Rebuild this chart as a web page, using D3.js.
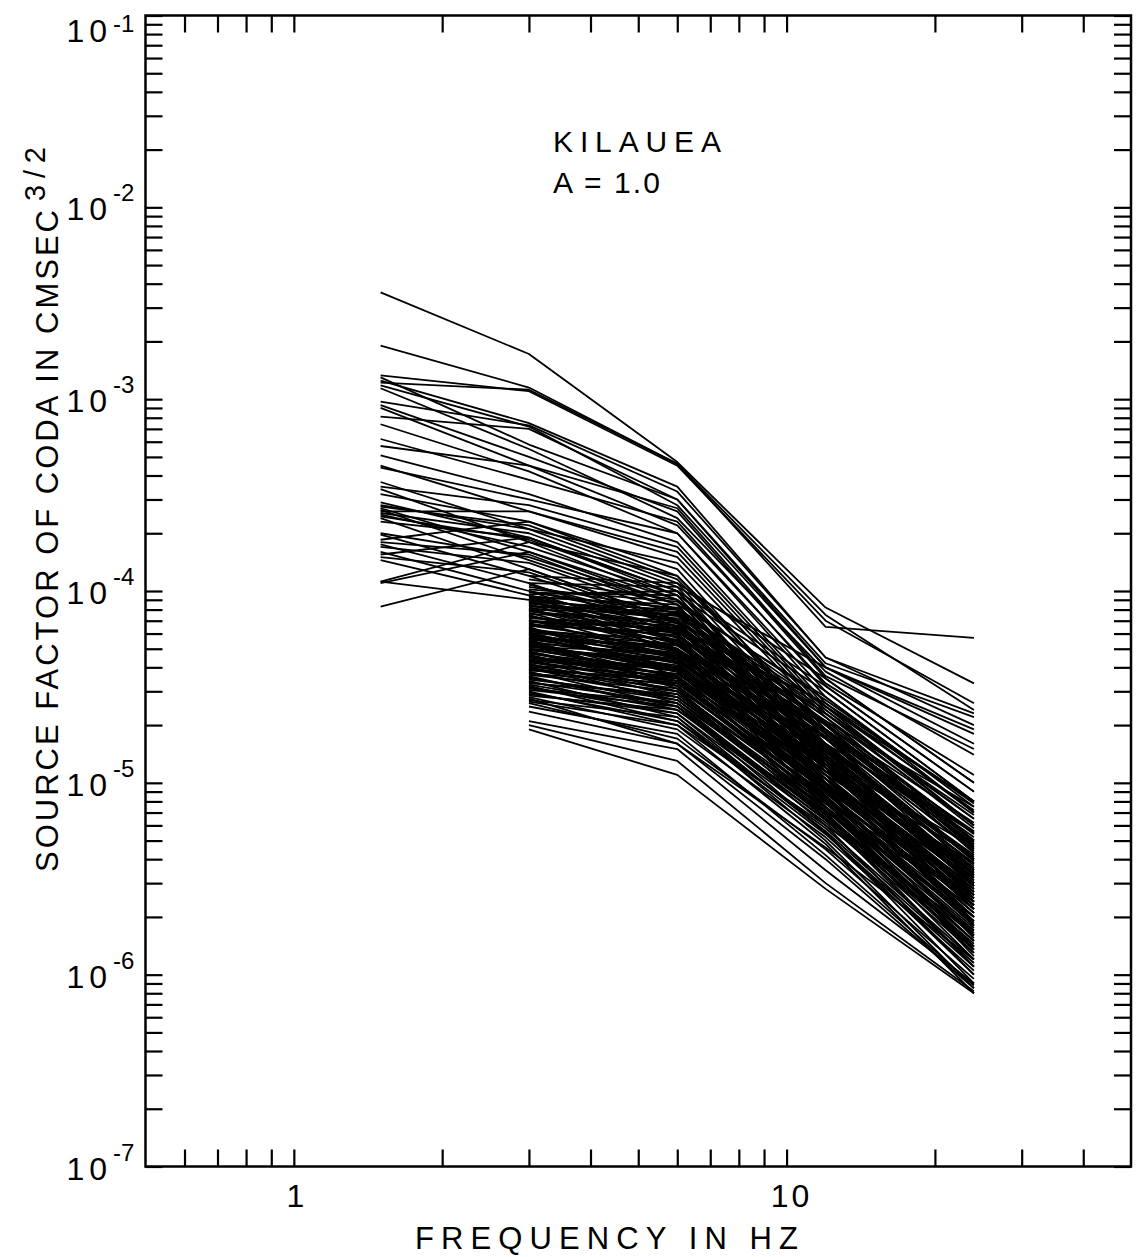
<!DOCTYPE html>
<html>
<head>
<meta charset="utf-8">
<script src="https://cdn.jsdelivr.net/npm/d3@7"></script>
<style>
  html, body { margin: 0; padding: 0; background: #fff; }
  svg { display: block; }
  text { font-family: "Liberation Sans", Arial, sans-serif; fill: #000; }
</style>
</head>
<body>
<svg id="chart" width="1139" height="1257"></svg>
<script>
// ---------------- DATA ----------------
const freqs = [1.5, 3, 6, 12, 24];           // Hz
const freqsFrom3 = [3, 6, 12, 24];

// Lines beginning at 1.5 Hz: values at 1.5, 3, 6, 12, 24 Hz
const linesFrom15 = [
  [3.6e-3, 1.72e-3, 4.7e-4, 8.2e-5, 3.3e-5],
  [1.9e-3, 1.15e-3, 4.6e-4, 6.5e-5, 5.7e-5],
  [1.33e-3, 1.1e-3, 4.5e-4, 7.0e-5, 2.6e-5],
  [1.25e-3, 7.5e-4, 3.5e-4, 4.5e-5, 2.3e-5],
  [1.22e-3, 1.12e-3, 4.6e-4, 7.5e-5, 2.4e-5],
  [1.18e-3, 7.2e-4, 2.8e-4, 4.0e-5, 1.6e-5],
  [1.14e-3, 5.5e-4, 2.4e-4, 3.8e-5, 1.4e-5],
  [9.7e-4, 7.3e-4, 3.3e-4, 4.5e-5, 2.0e-5],
  [9.3e-4, 5.0e-4, 2.6e-4, 3.5e-5, 1.0e-5],
  [9.0e-4, 4.5e-4, 2.2e-4, 3.3e-5, 1.1e-5],
  [8.1e-4, 7.0e-4, 3.0e-4, 4.2e-5, 2.2e-5],
  [7.4e-4, 4.2e-4, 2.0e-4, 3.0e-5, 8.0e-6],
  [6.2e-4, 3.8e-4, 2.3e-4, 3.2e-5, 9.0e-6],
  [5.7e-4, 4.5e-4, 2.7e-4, 3.6e-5, 1.5e-5],
  [5.1e-4, 3.2e-4, 1.8e-4, 2.6e-5, 7.0e-6],
  [4.5e-4, 2.6e-4, 1.6e-4, 2.4e-5, 6.0e-6],
  [4.4e-4, 3.0e-4, 2.0e-4, 2.8e-5, 7.5e-6],
  [3.7e-4, 2.1e-4, 1.4e-4, 2.2e-5, 5.0e-6],
  [3.5e-4, 2.8e-4, 1.7e-4, 2.5e-5, 8.0e-6],
  [3.4e-4, 1.8e-4, 1.2e-4, 2.0e-5, 4.5e-6],
  [3.2e-4, 2.3e-4, 1.3e-4, 1.8e-5, 5.5e-6],
  [2.9e-4, 1.9e-4, 1.0e-4, 1.6e-5, 4.0e-6],
  [2.8e-4, 2.1e-4, 1.1e-4, 1.7e-5, 3.5e-6],
  [2.75e-4, 2.2e-4, 1.15e-4, 1.9e-5, 4.8e-6],
  [2.7e-4, 1.6e-4, 9.0e-5, 1.4e-5, 3.0e-6],
  [2.65e-4, 1.45e-4, 8.0e-5, 1.2e-5, 2.5e-6],
  [2.6e-4, 2.6e-4, 1.5e-4, 2.3e-5, 6.5e-6],
  [2.55e-4, 2.0e-4, 1.05e-4, 1.5e-5, 4.0e-6],
  [2.5e-4, 1.7e-4, 9.5e-5, 1.3e-5, 3.2e-6],
  [2.45e-4, 1.85e-4, 1.0e-4, 1.55e-5, 3.6e-6],
  [2.4e-4, 1.3e-4, 7.0e-5, 1.1e-5, 2.2e-6],
  [2.3e-4, 1.9e-4, 1.0e-4, 1.45e-5, 3.8e-6],
  [2.0e-4, 1.5e-4, 8.5e-5, 1.25e-5, 3.0e-6],
  [1.97e-4, 1.2e-4, 6.5e-5, 1.0e-5, 2.0e-6],
  [1.85e-4, 2.3e-4, 1.2e-4, 1.8e-5, 5.0e-6],
  [1.8e-4, 1.55e-4, 8.0e-5, 1.3e-5, 2.9e-6],
  [1.75e-4, 1.1e-4, 6.0e-5, 9.0e-6, 1.8e-6],
  [1.7e-4, 1.4e-4, 7.5e-5, 1.15e-5, 2.8e-6],
  [1.6e-4, 1.0e-4, 5.5e-5, 8.5e-6, 1.6e-6],
  [1.55e-4, 1.9e-4, 9.5e-5, 1.4e-5, 3.3e-6],
  [1.5e-4, 1.25e-4, 6.8e-5, 1.05e-5, 2.3e-6],
  [1.45e-4, 9.5e-5, 5.0e-5, 8.0e-6, 1.5e-6],
  [1.3e-3, 5.8e-4, 3.0e-4, 4.0e-5, 1.9e-5],
  [1.12e-4, 1.8e-4, 9.0e-5, 1.35e-5, 3.4e-6],
  [1.12e-4, 9.0e-5, 4.8e-5, 7.5e-6, 1.4e-6],
  [1.1e-4, 1.6e-4, 8.5e-5, 1.2e-5, 2.7e-6],
  [8.3e-5, 1.3e-4, 7.0e-5, 1.0e-5, 2.1e-6]
];

// Lines beginning at 3 Hz: values at 3, 6, 12, 24 Hz
const linesFrom3 = [
  [1.2e-4, 1.1e-4, 3.5e-5, 1.0e-5],
  [1.15e-4, 9.0e-5, 2.5e-5, 6.0e-6],
  [1.1e-4, 1.05e-4, 4.0e-5, 1.8e-5],
  [1.08e-4, 6.8e-5, 1.6e-5, 3.3e-6],
  [1.05e-4, 8.0e-5, 2.2e-5, 5.0e-6],
  [1.02e-4, 8.8e-5, 2.7e-5, 7.8e-6],
  [1.0e-4, 7.0e-5, 1.8e-5, 4.0e-6],
  [9.9e-5, 7.7e-5, 2.05e-5, 4.9e-6],
  [9.8e-5, 9.5e-5, 3.0e-5, 8.0e-6],
  [9.6e-5, 1.0e-4, 3.2e-5, 9.0e-6],
  [9.5e-5, 6.5e-5, 1.5e-5, 3.0e-6],
  [9.4e-5, 8.2e-5, 2.3e-5, 5.8e-6],
  [9.3e-5, 8.5e-5, 2.8e-5, 7.0e-6],
  [9.2e-5, 7.0e-5, 1.9e-5, 4.6e-6],
  [9.1e-5, 6.2e-5, 1.6e-5, 3.7e-6],
  [9.0e-5, 7.5e-5, 2.0e-5, 5.5e-6],
  [8.9e-5, 5.7e-5, 1.35e-5, 2.9e-6],
  [8.8e-5, 6.0e-5, 1.3e-5, 2.5e-6],
  [8.75e-5, 8.0e-5, 2.5e-5, 7.2e-6],
  [8.7e-5, 6.6e-5, 1.85e-5, 5.2e-6],
  [8.6e-5, 7.4e-5, 2.1e-5, 5.4e-6],
  [8.5e-5, 5.5e-5, 1.2e-5, 2.2e-6],
  [8.4e-5, 7.2e-5, 2.0e-5, 4.3e-6],
  [8.3e-5, 7.8e-5, 2.4e-5, 6.5e-6],
  [8.2e-5, 6.4e-5, 1.7e-5, 3.9e-6],
  [8.1e-5, 5.3e-5, 1.25e-5, 2.3e-6],
  [8.0e-5, 5.0e-5, 1.4e-5, 3.5e-6],
  [8.0e-5, 7.6e-5, 2.2e-5, 6.0e-6],
  [7.9e-5, 6.0e-5, 1.45e-5, 3.2e-6],
  [7.8e-5, 6.8e-5, 1.7e-5, 4.5e-6],
  [7.7e-5, 4.9e-5, 1.2e-5, 2.6e-6],
  [7.6e-5, 7.0e-5, 2.3e-5, 6.8e-6],
  [7.5e-5, 4.5e-5, 1.0e-5, 2.0e-6],
  [7.4e-5, 5.4e-5, 1.5e-5, 3.1e-6],
  [7.3e-5, 6.2e-5, 2.1e-5, 7.5e-6],
  [7.2e-5, 6.6e-5, 1.9e-5, 5.6e-6],
  [7.1e-5, 4.4e-5, 1.05e-5, 1.9e-6],
  [7.0e-5, 5.8e-5, 1.6e-5, 4.0e-6],
  [7.0e-5, 6.3e-5, 1.8e-5, 4.7e-6],
  [6.95e-5, 5.5e-5, 1.4e-5, 2.9e-6],
  [6.9e-5, 6.4e-5, 2.6e-5, 8.0e-6],
  [6.8e-5, 4.8e-5, 1.1e-5, 1.8e-6],
  [6.7e-5, 5.9e-5, 1.75e-5, 4.4e-6],
  [6.6e-5, 5.2e-5, 1.9e-5, 5.0e-6],
  [6.6e-5, 6.1e-5, 2.0e-5, 6.2e-6],
  [6.5e-5, 3.6e-5, 8.2e-6, 1.35e-6],
  [6.4e-5, 4.2e-5, 9.0e-6, 1.6e-6],
  [6.35e-5, 5.0e-5, 1.25e-5, 2.6e-6],
  [6.3e-5, 4.7e-5, 1.35e-5, 3.4e-6],
  [6.2e-5, 5.6e-5, 1.5e-5, 3.8e-6],
  [6.2e-5, 4.6e-5, 1.3e-5, 3.0e-6],
  [6.1e-5, 3.9e-5, 9.5e-6, 1.55e-6],
  [6.05e-5, 5.3e-5, 1.55e-5, 4.1e-6],
  [6.0e-5, 4.0e-5, 1.2e-5, 2.8e-6],
  [5.95e-5, 4.5e-5, 1.2e-5, 2.4e-6],
  [5.9e-5, 3.8e-5, 8.0e-6, 1.4e-6],
  [5.8e-5, 5.0e-5, 1.7e-5, 4.8e-6],
  [5.75e-5, 4.7e-5, 1.35e-5, 3.5e-6],
  [5.7e-5, 4.2e-5, 1.15e-5, 2.7e-6],
  [5.65e-5, 5.2e-5, 1.5e-5, 4.2e-6],
  [5.6e-5, 4.4e-5, 1.3e-5, 3.0e-6],
  [5.6e-5, 3.1e-5, 6.8e-6, 1.1e-6],
  [5.5e-5, 3.5e-5, 7.5e-6, 1.3e-6],
  [5.45e-5, 4.3e-5, 1.2e-5, 3.1e-6],
  [5.4e-5, 4.6e-5, 1.45e-5, 3.3e-6],
  [5.35e-5, 3.8e-5, 1.0e-5, 2.5e-6],
  [5.3e-5, 3.3e-5, 9.5e-6, 2.4e-6],
  [5.25e-5, 3.9e-5, 1.05e-5, 2.2e-6],
  [5.2e-5, 4.1e-5, 1.1e-5, 2.6e-6],
  [5.15e-5, 4.0e-5, 1.1e-5, 2.4e-6],
  [5.1e-5, 4.8e-5, 1.6e-5, 5.5e-6],
  [5.0e-5, 3.6e-5, 7.0e-6, 1.2e-6],
  [5.0e-5, 4.4e-5, 1.2e-5, 3.4e-6],
  [4.95e-5, 3.8e-5, 9.8e-6, 2.1e-6],
  [4.9e-5, 4.3e-5, 1.25e-5, 3.6e-6],
  [4.85e-5, 3.4e-5, 9.2e-6, 2.0e-6],
  [4.8e-5, 3.2e-5, 8.5e-6, 1.9e-6],
  [4.75e-5, 3.6e-5, 9.5e-6, 2.8e-6],
  [4.7e-5, 3.9e-5, 1.05e-5, 2.9e-6],
  [4.65e-5, 3.2e-5, 8.0e-6, 1.25e-6],
  [4.6e-5, 3.0e-5, 6.5e-6, 1.1e-6],
  [4.55e-5, 3.5e-5, 9.0e-6, 2.3e-6],
  [4.5e-5, 3.7e-5, 1.15e-5, 4.2e-6],
  [4.5e-5, 4.0e-5, 1.3e-5, 4.6e-6],
  [4.4e-5, 2.8e-5, 7.8e-6, 1.7e-6],
  [4.4e-5, 3.9e-5, 1.15e-5, 3.0e-6],
  [4.35e-5, 3.7e-5, 1.05e-5, 2.7e-6],
  [4.3e-5, 3.4e-5, 9.0e-6, 2.1e-6],
  [4.25e-5, 3.3e-5, 8.6e-6, 1.8e-6],
  [4.2e-5, 2.6e-5, 6.0e-6, 1.0e-6],
  [4.15e-5, 3.0e-5, 8.0e-6, 1.75e-6],
  [4.1e-5, 3.6e-5, 1.0e-5, 3.2e-6],
  [4.05e-5, 3.2e-5, 8.4e-6, 2.0e-6],
  [4.0e-5, 2.9e-5, 7.2e-6, 1.5e-6],
  [3.95e-5, 2.7e-5, 7.0e-6, 1.35e-6],
  [3.9e-5, 3.1e-5, 8.8e-6, 2.3e-6],
  [3.9e-5, 3.4e-5, 9.3e-6, 2.4e-6],
  [3.85e-5, 3.5e-5, 1.1e-5, 3.8e-6],
  [3.8e-5, 2.5e-5, 5.5e-6, 9.0e-7],
  [3.75e-5, 2.8e-5, 7.2e-6, 2.0e-6],
  [3.7e-5, 3.3e-5, 9.8e-6, 2.7e-6],
  [3.65e-5, 3.0e-5, 8.2e-6, 1.85e-6],
  [3.6e-5, 2.4e-5, 6.8e-6, 1.6e-6],
  [3.55e-5, 2.5e-5, 6.4e-6, 1.4e-6],
  [3.5e-5, 2.7e-5, 7.5e-6, 1.9e-6],
  [3.45e-5, 2.8e-5, 7.4e-6, 1.65e-6],
  [3.4e-5, 2.2e-5, 5.0e-6, 8.5e-7],
  [3.35e-5, 2.6e-5, 7.8e-6, 2.6e-6],
  [3.3e-5, 2.9e-5, 8.2e-6, 2.2e-6],
  [3.25e-5, 2.4e-5, 7.0e-6, 2.5e-6],
  [3.2e-5, 2.1e-5, 5.8e-6, 1.2e-6],
  [3.15e-5, 2.3e-5, 5.5e-6, 1.0e-6],
  [3.1e-5, 2.6e-5, 6.6e-6, 1.45e-6],
  [3.05e-5, 2.5e-5, 6.8e-6, 1.5e-6],
  [3.0e-5, 2.0e-5, 4.8e-6, 8.0e-7],
  [2.95e-5, 2.1e-5, 5.4e-6, 1.1e-6],
  [2.9e-5, 2.3e-5, 6.2e-6, 1.3e-6],
  [2.85e-5, 2.4e-5, 6.4e-6, 1.35e-6],
  [2.8e-5, 1.9e-5, 5.2e-6, 1.05e-6],
  [2.75e-5, 1.6e-5, 4.0e-6, 8.5e-7],
  [2.7e-5, 2.2e-5, 5.6e-6, 1.15e-6],
  [2.65e-5, 2.0e-5, 6.0e-6, 1.7e-6],
  [2.6e-5, 1.7e-5, 4.5e-6, 9.5e-7],
  [2.5e-5, 1.8e-5, 4.2e-6, 8.8e-7],
  [2.35e-5, 1.6e-5, 4.6e-6, 1.2e-6],
  [2.1e-5, 1.5e-5, 3.5e-6, 9.0e-7],
  [2.0e-5, 1.3e-5, 3.0e-6, 8.2e-7],
  [1.9e-5, 1.1e-5, 2.8e-6, 8.0e-7]
];

const xTickValues = [0.6,0.7,0.8,0.9,1,2,3,4,5,6,7,8,9,10,20,30,40];
const xTickLabels = [{v: 1, t: "1"}, {v: 10, t: "10"}];
const yDecadeExponents = [-1, -2, -3, -4, -5, -6, -7];
const yAxisTitle = "SOURCE FACTOR OF CODA IN CMSEC";
const yAxisTitleSup = "3/2";
const xAxisTitle = "FREQUENCY IN HZ";
const annotation = ["KILAUEA", "A = 1.0"];

// ---------------- CHART ----------------
const svg = d3.select("#chart");
svg.append("rect").attr("width", 1139).attr("height", 1257).attr("fill", "#fff");

const L = 145.5, R = 1131, T = 15.5, B = 1166.5;
const x = d3.scaleLog().domain([0.5, 50]).range([L, R]);
const y = d3.scaleLog().domain([1e-7, 1e-1]).range([B, T]);

// minor y ticks: 1..9 x 10^k
const yTickValues = [];
for (let e = -7; e <= -2; e++) for (let m = 1; m <= 9; m++) yTickValues.push(m * Math.pow(10, e));
yTickValues.push(1e-1);

const tickLen = 17;
function styleAxis(g) {
  g.select(".domain").remove();
  g.selectAll(".tick line").attr("stroke", "#000").attr("stroke-width", 2.2);
  g.selectAll(".tick text").remove();
}
svg.append("g").attr("transform", `translate(${L},0)`)
  .call(d3.axisLeft(y).tickValues(yTickValues).tickSize(-tickLen).tickFormat(""))
  .call(styleAxis);
svg.append("g").attr("transform", `translate(${R},0)`)
  .call(d3.axisRight(y).tickValues(yTickValues).tickSize(-tickLen).tickFormat(""))
  .call(styleAxis);
svg.append("g").attr("transform", `translate(0,${B})`)
  .call(d3.axisBottom(x).tickValues(xTickValues).tickSize(-tickLen).tickFormat(""))
  .call(styleAxis);
svg.append("g").attr("transform", `translate(0,${T})`)
  .call(d3.axisTop(x).tickValues(xTickValues).tickSize(-tickLen).tickFormat(""))
  .call(styleAxis);

// frame
svg.append("rect").attr("x", L).attr("y", T).attr("width", R - L).attr("height", B - T)
  .attr("fill", "none").attr("stroke", "#000").attr("stroke-width", 2.5);

// data lines
const line = d3.line().x(d => x(d[0])).y(d => y(d[1]));
const g = svg.append("g").attr("fill", "none").attr("stroke", "#000")
  .attr("stroke-width", 1.8).attr("stroke-linejoin", "round");
linesFrom15.forEach(vals => {
  g.append("path").attr("d", line(freqs.map((f, i) => [f, vals[i]])));
});
linesFrom3.forEach(vals => {
  g.append("path").attr("d", line(freqsFrom3.map((f, i) => [f, vals[i]])));
});

// y tick labels
yDecadeExponents.forEach(e => {
  const yy = y(Math.pow(10, e));
  const base = e === -1 ? 42 : yy + 13;
  const sup = e === -1 ? 32 : yy - 6;
  svg.append("text").attr("x", 112).attr("y", base).attr("text-anchor", "end")
    .attr("font-size", 32).attr("letter-spacing", 5).text("10");
  svg.append("text").attr("x", 113).attr("y", sup).attr("text-anchor", "start")
    .attr("font-size", 24).text("-" + (-e));
});

// x tick labels
xTickLabels.forEach(d => {
  svg.append("text").attr("x", x(d.v) + (d.v === 10 ? 5 : 3)).attr("y", 1207)
    .attr("text-anchor", "middle").attr("font-size", 32).attr("letter-spacing", 3).text(d.t);
});

// axis titles
svg.append("text").attr("x", 415).attr("y", 1249).attr("font-size", 31)
  .attr("textLength", 383).attr("lengthAdjust", "spacing").text(xAxisTitle);

svg.append("text").attr("transform", "translate(58,872) rotate(-90)")
  .attr("font-size", 31).attr("textLength", 662).attr("lengthAdjust", "spacing")
  .text(yAxisTitle);
svg.append("text").attr("transform", "translate(45,201) rotate(-90)")
  .attr("font-size", 29).attr("textLength", 54).attr("lengthAdjust", "spacing")
  .text(yAxisTitleSup);

// annotation
svg.append("text").attr("x", 553).attr("y", 152).attr("font-size", 30)
  .attr("textLength", 168).attr("lengthAdjust", "spacing").text(annotation[0]);
svg.append("text").attr("x", 553).attr("y", 193).attr("font-size", 30)
  .attr("textLength", 107).attr("lengthAdjust", "spacing").text(annotation[1]);
</script>
</body>
</html>
